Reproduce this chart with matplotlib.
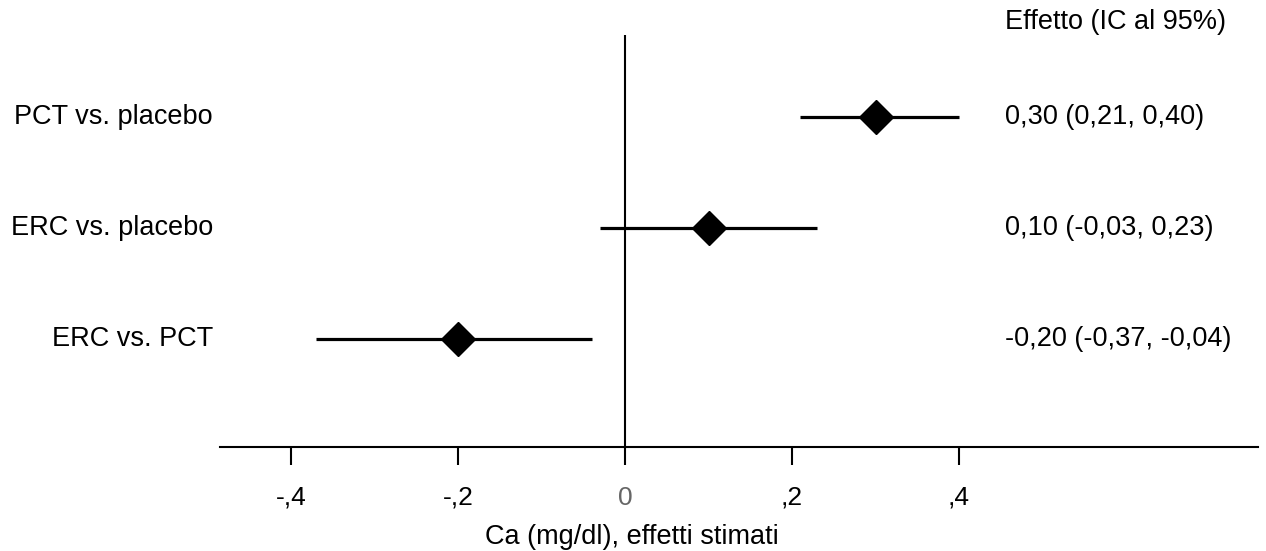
import matplotlib as mpl
mpl.use('agg')
import matplotlib.pyplot as plt
import matplotlib.transforms as mtransforms

# data
labels = ['PCT vs. placebo', 'ERC vs. placebo', 'ERC vs. PCT']
effects = [0.30, 0.10, -0.20]
ci_low = [0.21, -0.03, -0.37]
ci_high = [0.40, 0.23, -0.04]
effect_text = ['0,30 (0,21, 0,40)', '0,10 (-0,03, 0,23)', '-0,20 (-0,37, -0,04)']
tick_vals = [-0.4, -0.2, 0.0, 0.2, 0.4]
tick_labels = ['-,4', '-,2', '0', ',2', ',4']

plt.rcParams['font.family'] = ['Liberation Sans', 'DejaVu Sans']
fs = 19.5
plt.rcParams['font.size'] = fs

W, H = 1266, 551
fig = plt.figure(figsize=(W / 100, H / 100), dpi=100)
ax = fig.add_axes([220 / W, (H - 447) / H, (1258 - 220) / W, (447 - 35) / H])

rows = [3, 2, 1]
for y, e, lo, hi in zip(rows, effects, ci_low, ci_high):
    ax.plot([lo, hi], [y, y], color='black', lw=2.3, solid_capstyle='butt', zorder=2)
    ax.plot(e, y, marker='D', color='black', markersize=17, zorder=3)

ax.axvline(0, color='black', lw=1.5, zorder=1)

ax.set_xlim(-0.485, 0.758)
ax.set_ylim(0.027, 3.739)

for s in ['top', 'right', 'left']:
    ax.spines[s].set_visible(False)
ax.spines['bottom'].set_linewidth(1.5)
ax.set_yticks([])
ax.set_xticks(tick_vals)
ax.set_xticklabels(tick_labels)
ax.tick_params(axis='x', length=13, width=1.5, pad=15, labelsize=19)
ax.get_xticklabels()[2].set_color('#666666')

ax.set_xlabel('Ca (mg/dl), effetti stimati', fontsize=fs)
ax.xaxis.set_label_coords((632 - 220) / (1258 - 220), -0.188)

# row labels and effect texts
trans = mtransforms.blended_transform_factory(fig.transFigure, ax.transData)
for y, lab, txt in zip(rows, labels, effect_text):
    ax.text(213 / W, y, lab, transform=trans, ha='right', va='center', fontsize=fs)
    ax.text(1005 / W, y, txt, transform=trans, ha='left', va='center', fontsize=fs)
fig.text(1005 / W, (H - 22) / H, 'Effetto (IC al 95%)', ha='left', va='center', fontsize=fs)

fig.savefig('out.png', dpi=100, facecolor='white')
